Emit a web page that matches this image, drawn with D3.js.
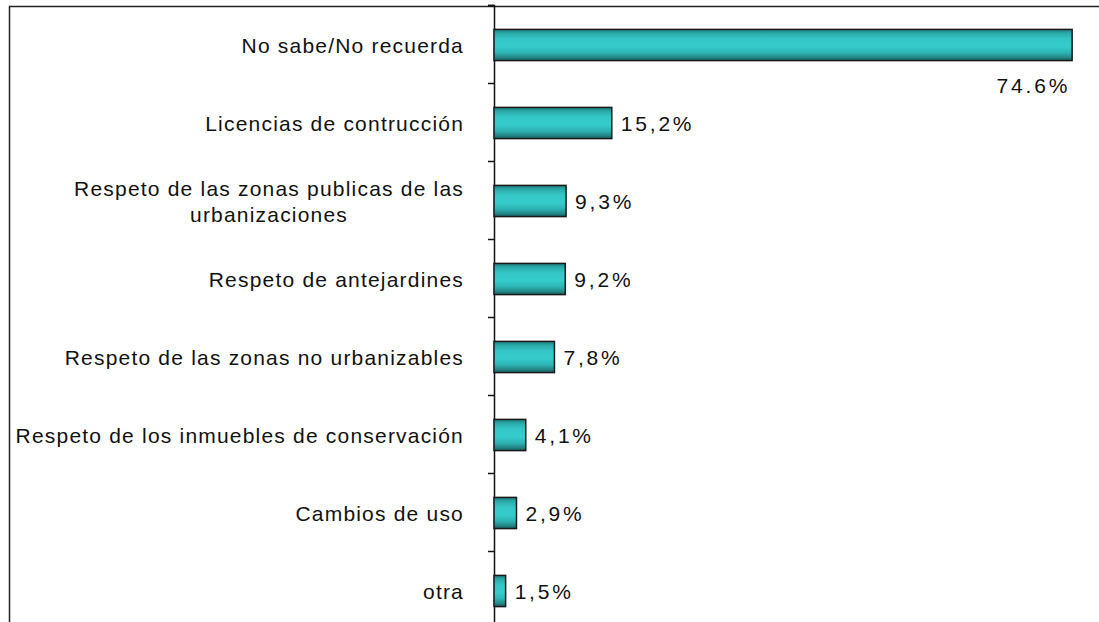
<!DOCTYPE html>
<html>
<head>
<meta charset="utf-8">
<script src="https://cdn.jsdelivr.net/npm/d3@7"></script>
<style>
  body { margin: 0; background: #fff; }
  svg { display: block; }
  text { font-family: "Liberation Sans", Arial, sans-serif; fill: #111; }
</style>
</head>
<body>
<div id="chart"></div>
<script>
var categorias = [
    "No sabe/No recuerda",
    "Licencias de contrucción",
    "Respeto de las zonas publicas de las\nurbanizaciones",
    "Respeto de antejardines",
    "Respeto de las zonas no urbanizables",
    "Respeto de los inmuebles de conservación",
    "Cambios de uso",
    "otra"
];
var valores = [74.6, 15.2, 9.3, 9.2, 7.8, 4.1, 2.9, 1.5];
var etiquetas = ["74.6%", "15,2%", "9,3%", "9,2%", "7,8%", "4,1%", "2,9%", "1,5%"];

var w = 1099, h = 622;

var svg = d3.select("#chart").append("svg")
    .attr("width", w)
    .attr("height", h);

// degradé des barres
var grad = svg.append("defs").append("linearGradient")
    .attr("id", "teal")
    .attr("x1", 0).attr("y1", 0).attr("x2", 0).attr("y2", 1);
[[0, "#1f7a7a"], [0.12, "#2aa8a8"], [0.3, "#33c6c6"], [0.55, "#36cccc"],
 [0.75, "#2db4b4"], [0.9, "#238585"], [1, "#1a5c5c"]].forEach(function(s) {
    grad.append("stop").attr("offset", s[0]).attr("stop-color", s[1]);
});

// cadre
svg.append("rect")
    .attr("x", 9.5).attr("y", 6.5)
    .attr("width", w + 20).attr("height", h + 20)
    .attr("fill", "none")
    .attr("stroke", "#222")
    .attr("stroke-width", 1.5);

var x = d3.scaleLinear().domain([0, 80]).range([494, 1114]);

var y = d3.scaleBand()
    .domain(categorias)
    .range([6, 630])
    .paddingInner(0.6)
    .paddingOuter(0.3);

// axe avec les graduations entre les catégories
var yEdge = d3.scaleLinear().domain([0, categorias.length]).range([5, 629]);

svg.append("g")
    .attr("transform", "translate(494,0)")
    .call(d3.axisLeft(yEdge).ticks(categorias.length).tickFormat("").tickSizeOuter(0).tickSize(6))
    .call(function(g) {
        g.select(".domain").attr("stroke", "#111").attr("stroke-width", 1.5);
        g.selectAll(".tick line").attr("stroke", "#111").attr("stroke-width", 1.5);
    });

svg.append("g").selectAll("rect")
    .data(valores)
    .enter().append("rect")
    .attr("x", x(0))
    .attr("y", function(d, i) { return y(categorias[i]); })
    .attr("width", function(d) { return x(d) - x(0); })
    .attr("height", y.bandwidth())
    .attr("fill", "url(#teal)")
    .attr("stroke", "#1a1a1a")
    .attr("stroke-width", 1.5);

// étiquettes des catégories
var lab = svg.append("g").selectAll("g")
    .data(categorias)
    .enter().append("g");

lab.each(function(d) {
    var lignes = d.split("\n");
    var g = d3.select(this);
    var cy = y(d) + y.bandwidth() / 2;
    var t = g.append("text")
        .attr("font-size", 21)
        .attr("letter-spacing", 1.2)
        .attr("text-anchor", "middle");
    t.selectAll("tspan")
        .data(lignes)
        .enter().append("tspan")
        .attr("x", 0)
        .attr("y", function(l, j) { return cy + 8 + (j - (lignes.length - 1) / 2) * 26; })
        .text(function(l) { return l; });
    var bb = t.node().getBBox();
    t.attr("transform", "translate(" + (464 - bb.width / 2) + ",0)");
});

// valeurs
svg.append("g").selectAll("text")
    .data(valores)
    .enter().append("text")
    .attr("font-size", 21)
    .attr("letter-spacing", 2.8)
    .attr("x", function(d, i) { return i == 0 ? x(d) - 2 : x(d) + 9; })
    .attr("y", function(d, i) {
        var cy = y(categorias[i]) + y.bandwidth() / 2;
        return i == 0 ? cy + 48 : cy + 8;
    })
    .attr("text-anchor", function(d, i) { return i == 0 ? "end" : "start"; })
    .text(function(d, i) { return etiquetas[i]; });
</script>
</body>
</html>
